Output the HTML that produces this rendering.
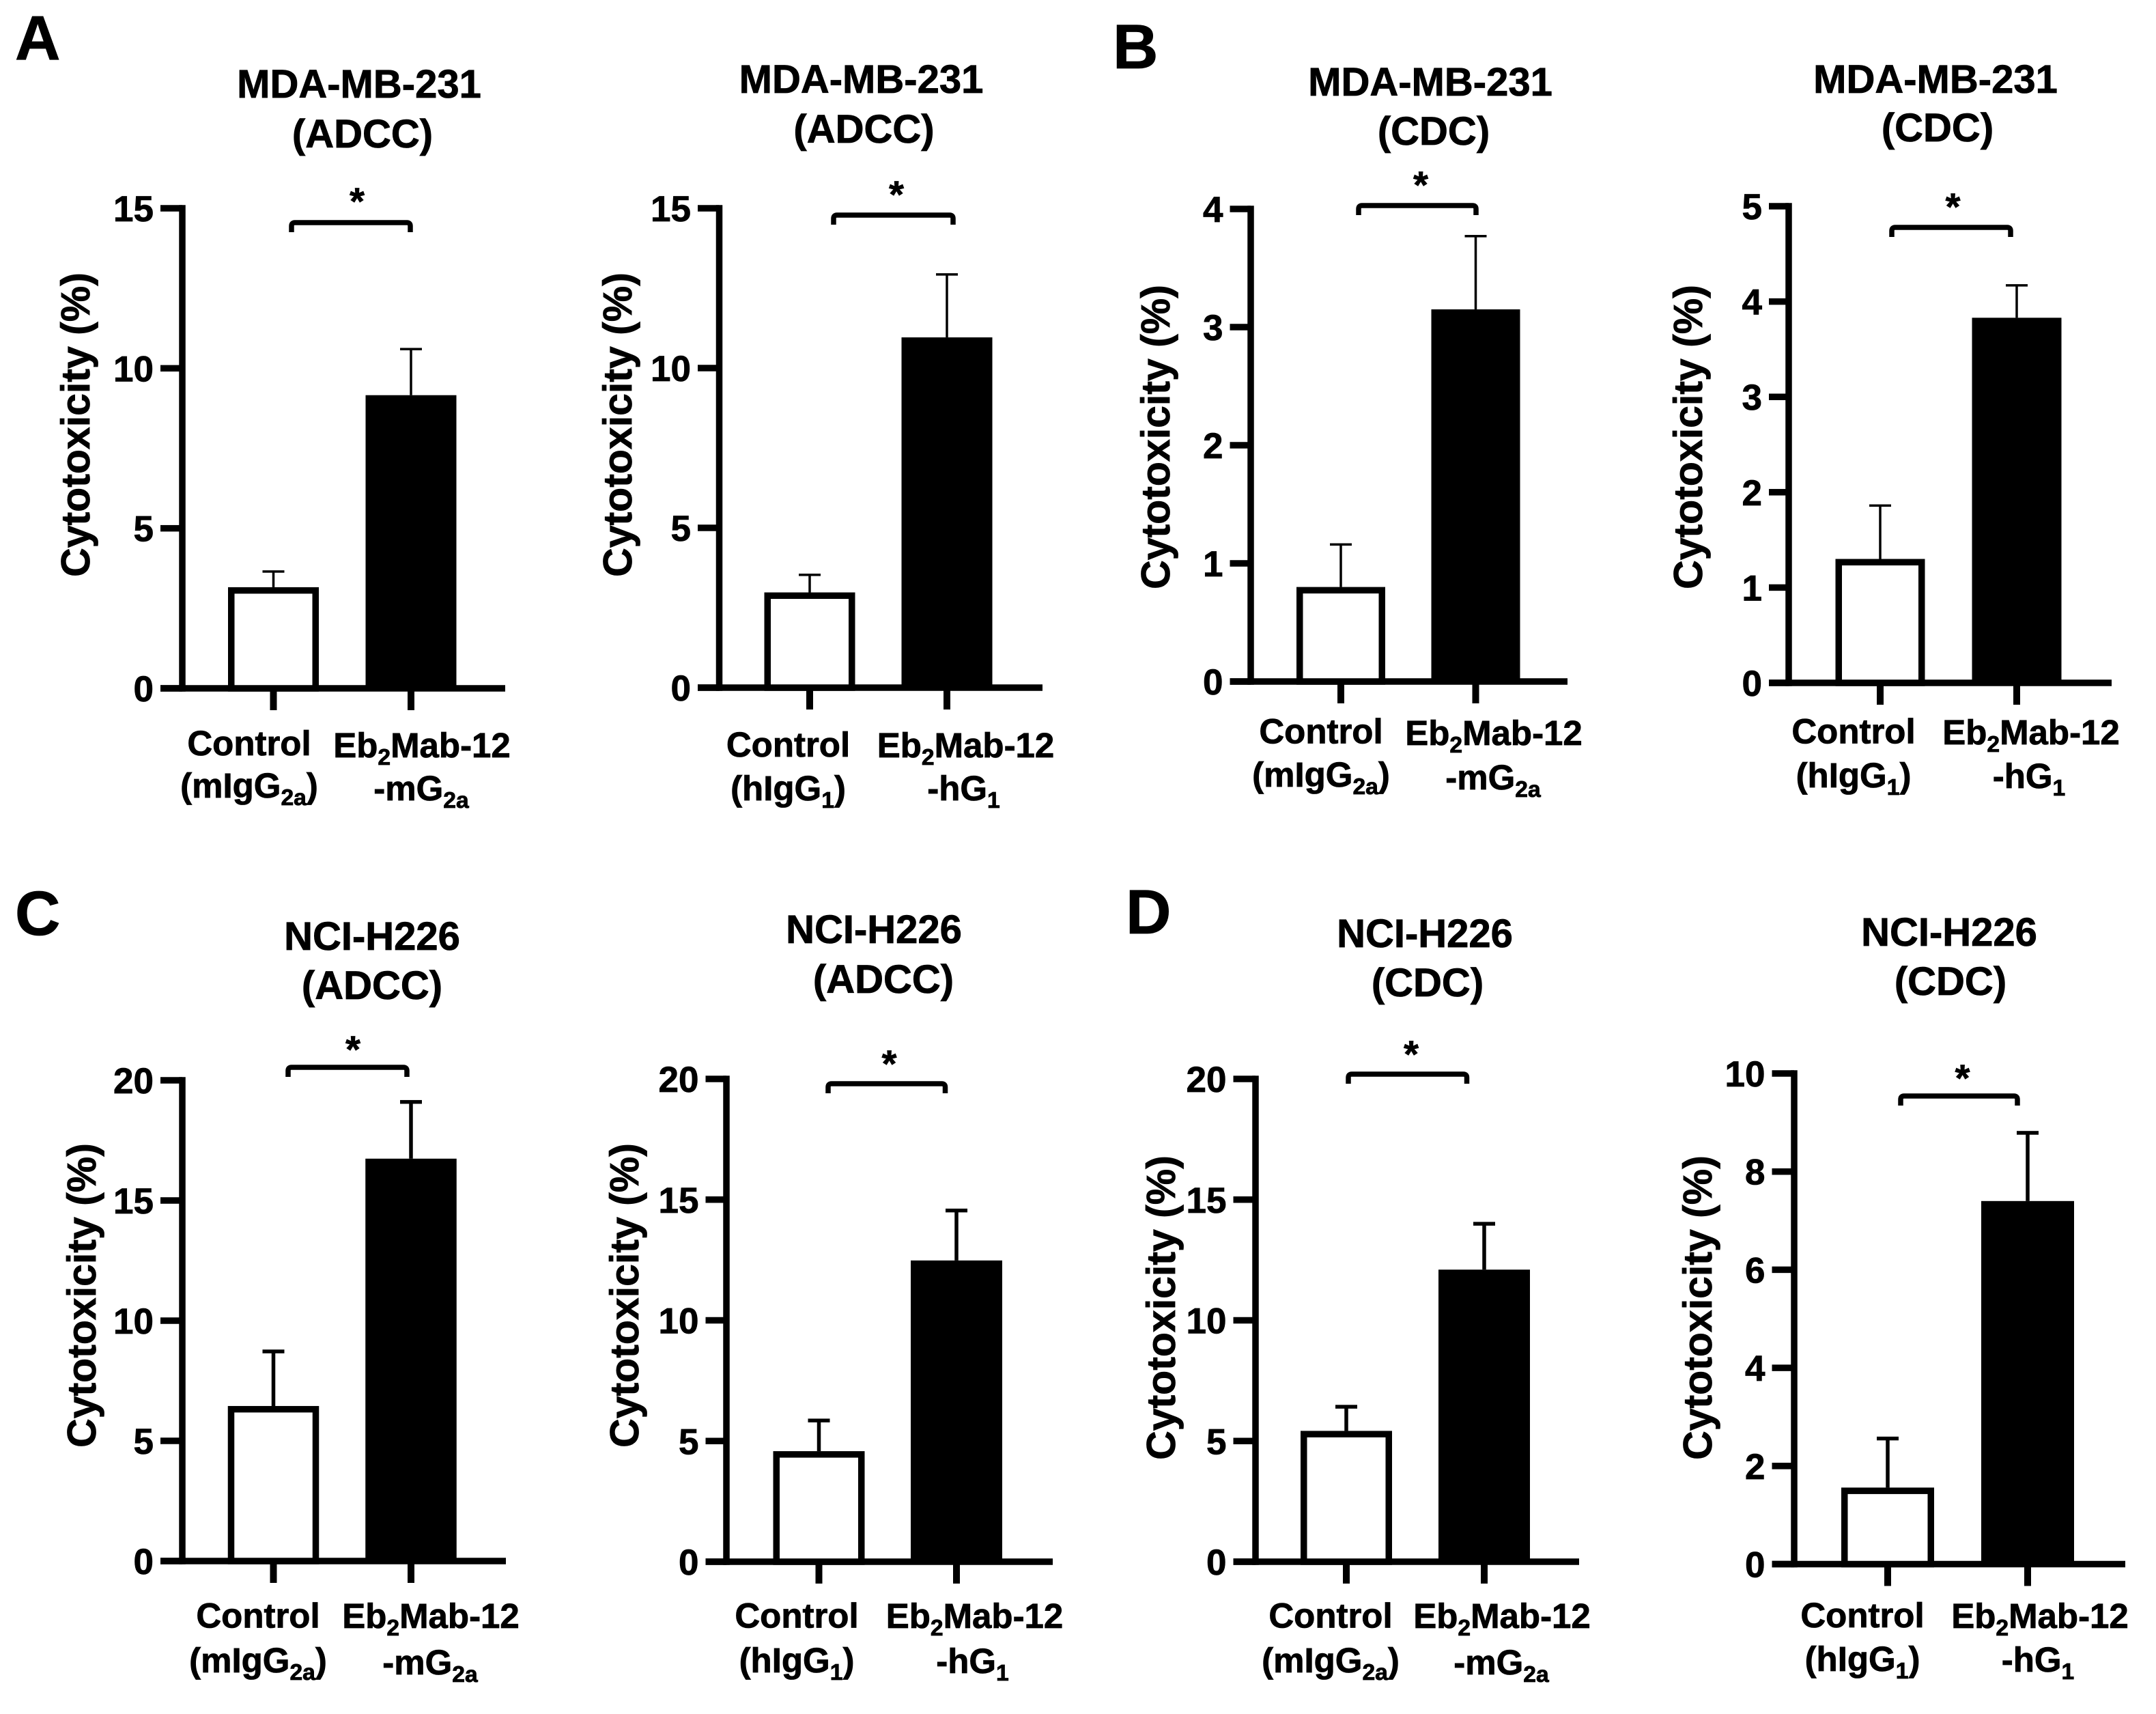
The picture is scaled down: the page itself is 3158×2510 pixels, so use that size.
<!DOCTYPE html>
<html lang="en">
<head>
<meta charset="utf-8">
<title>Cytotoxicity bar charts</title>
<style>
html,body{margin:0;padding:0;background:#fff;width:3158px;height:2510px;overflow:hidden}
svg{display:block}
text{font-family:"Liberation Sans",sans-serif;font-weight:700;fill:#000;stroke:#000;stroke-width:.8px}
</style>
</head>
<body>
<svg id="fig" xmlns="http://www.w3.org/2000/svg" width="3158" height="2510" viewBox="0 0 3158 2510">
  <rect width="3158" height="2510" fill="#fff"/>
  <text x="22" y="87" font-size="92">A</text>
  <text x="1630" y="100" font-size="92">B</text>
  <text x="22" y="1369" font-size="92">C</text>
  <text x="1649" y="1367" font-size="92">D</text>
</svg>
<script>
// ---- chart data ----
const cellLines = ["MDA-MB-231","MDA-MB-231","MDA-MB-231","MDA-MB-231","NCI-H226","NCI-H226","NCI-H226","NCI-H226"];
const assays = ["(ADCC)","(ADCC)","(CDC)","(CDC)","(ADCC)","(ADCC)","(CDC)","(CDC)"];
const controlIsotypes = ["m","h","m","h","m","h","m","h"];
const controlValues = [3.16, 2.98, 0.8, 1.3, 6.45, 4.58, 5.42, 1.56];
const controlErrorTops = [3.65, 3.53, 1.16, 1.86, 8.72, 5.85, 6.42, 2.56];
const treatedValues = [9.16, 10.96, 3.15, 3.83, 16.74, 12.48, 12.1, 7.4];
const treatedErrorTops = [10.6, 12.93, 3.77, 4.17, 19.1, 14.55, 14.0, 8.79];
const yTickLabels = [
  [0,5,10,15],[0,5,10,15],[0,1,2,3,4],[0,1,2,3,4,5],
  [0,5,10,15,20],[0,5,10,15,20],[0,5,10,15,20],[0,2,4,6,8,10]
];

// ---- layout (pixels in the figure) ----
const panelFrames = [
  {axisX:267, left:235, top:305, bottom:1008, right:740,  cx:400.5,tx:602,  bw:133, err:3.5, lc:365,  lt:618,  lcY:1106, lcY2:1168, ltY:1109, ltY2:1172, t1x:526,  t2x:531,  t1y:143, t2y:216, yTitleX:131, yTitleY:622, brL:427, brR:601, brY:326, starX:523, starY:288},
  {axisX:1053.5,left:1022,top:305,bottom:1007,right:1527, cx:1186, tx:1387, bw:133, err:3.5, lc:1154.5,lt:1414.5,lcY:1108, lcY2:1172, ltY:1109, ltY2:1172, t1x:1261.5,t2x:1265.5,t1y:136, t2y:209, yTitleX:925, yTitleY:622, brL:1221,brR:1396,brY:315, starX:1313,starY:278},
  {axisX:1832,left:1801.5,top:306,bottom:998, right:2296, cx:1964, tx:2161.5,bw:130, err:3.5, lc:1935, lt:2188, lcY:1088.5,lcY2:1152, ltY:1091, ltY2:1156, t1x:2095, t2x:2100, t1y:140, t2y:212, yTitleX:1713,yTitleY:640, brL:1990,brR:2162,brY:301, starX:2081,starY:264},
  {axisX:2620,left:2591,top:302, bottom:1000, right:3093, cx:2754, tx:2954, bw:131, err:3.5, lc:2715, lt:2975, lcY:1088.5,lcY2:1153, ltY:1090, ltY2:1154, t1x:2835, t2x:2838, t1y:136, t2y:207, yTitleX:2493,yTitleY:640, brL:2771,brR:2945,brY:333, starX:2860.5,starY:296},
  {axisX:267, left:235, top:1582,bottom:2286, right:741,  cx:400.5,tx:602,  bw:133.5,err:5.5, lc:378,  lt:631,  lcY:2383.5,lcY2:2449, ltY:2384, ltY2:2452, t1x:545,  t2x:545,  t1y:1391,t2y:1463,yTitleX:140, yTitleY:1897,brL:422, brR:596, brY:1563,starX:517, starY:1530},
  {axisX:1064,left:1033.5,top:1580,bottom:2287,right:1542,cx:1199.5,tx:1401,bw:134, err:5.5, lc:1167, lt:1427.5,lcY:2383.5,lcY2:2449, ltY:2384, ltY2:2450, t1x:1280, t2x:1294, t1y:1381,t2y:1454,yTitleX:935, yTitleY:1897,brL:1213,brR:1384.5,brY:1587,starX:1302.5,starY:1551},
  {axisX:1839,left:1806.5,top:1580,bottom:2287,right:2313,cx:1972, tx:2174, bw:134, err:5.5, lc:1949, lt:2200, lcY:2383.5,lcY2:2449, ltY:2384, ltY2:2452, t1x:2087, t2x:2091, t1y:1387,t2y:1459,yTitleX:1721,yTitleY:1915,brL:1975,brR:2148.5,brY:1573,starX:2067,starY:1537},
  {axisX:2628,left:2595.5,top:1572,bottom:2290.5,right:3113,cx:2765,tx:2970,bw:136, err:5.5, lc:2728, lt:2988, lcY:2383, lcY2:2447, ltY:2384, ltY2:2448, t1x:2855, t2x:2857, t1y:1385,t2y:1457,yTitleX:2507,yTitleY:1915,brL:2784,brR:2955,brY:1605,starX:2874.5,starY:1572}
];
const stroke = 9.5;
const NS = "http://www.w3.org/2000/svg";
const fig = document.getElementById("fig");

function yScale(f, ticks, v) {
  const max = ticks[ticks.length - 1];
  return f.bottom - (v / max) * (f.bottom - f.top);
}
function addRect(g, x, y, w, h, fill) {
  const r = document.createElementNS(NS, "rect");
  r.setAttribute("x", x); r.setAttribute("y", y);
  r.setAttribute("width", w); r.setAttribute("height", h);
  r.setAttribute("fill", fill);
  g.appendChild(r);
  return r;
}
function addText(g, x, y, size, anchor) {
  const t = document.createElementNS(NS, "text");
  t.setAttribute("x", x); t.setAttribute("y", y);
  t.setAttribute("font-size", size);
  t.setAttribute("text-anchor", anchor);
  g.appendChild(t);
  return t;
}
function addSpan(t, str, sub, size) {
  const s = document.createElementNS(NS, "tspan");
  s.textContent = str;
  if (sub) { s.setAttribute("font-size", size * 0.66); s.setAttribute("dy", 11); }
  else if (t.dataset.wasSub === "1") { s.setAttribute("dy", -11); }
  t.dataset.wasSub = sub ? "1" : "0";
  t.appendChild(s);
}

panelFrames.forEach(function (f, i) {
  const ticks = yTickLabels[i];
  const g = document.createElementNS(NS, "g");
  
  
  fig.appendChild(g);

  // titles
  const t1 = addText(g, f.t1x, f.t1y, 58, "middle");
  t1.textContent = cellLines[i];
  
  
  const t2 = addText(g, f.t2x, f.t2y, 58, "middle");
  t2.textContent = assays[i];
  
  

  // y title
  const yt = addText(g, 0, 0, 59, "middle");
  yt.textContent = "Cytotoxicity (%)";
  yt.setAttribute("transform", "translate(" + f.yTitleX + "," + f.yTitleY + ") rotate(-90)");
  
  

  // y axis
  const yAxis = addRect(g, f.axisX - stroke / 2, f.top - stroke / 2, stroke, f.bottom - f.top + stroke, "#000");
  
  

  ticks.forEach(function (v) {
    const y = yScale(f, ticks, v);
    const tk = addRect(g, f.left, y - stroke / 2, f.axisX - f.left, stroke, "#000");
    
    
    const lb = addText(g, f.left - 10, y + 19, 53, "end");
    lb.textContent = String(v);
    
    
  });

  // x axis
  const xAxis = addRect(g, f.left, f.bottom - stroke / 2, f.right - f.left, stroke, "#000");
  
  

  [f.cx, f.tx].forEach(function (x) {
    const tk = addRect(g, x - 5, f.bottom, 10, 32, "#000");
    
    
  });

  // error bars
  function errorBar(x, base, topV, name) {
    const yTop = yScale(f, ticks, topV);
    const yBase = yScale(f, ticks, base);
    const stem = addRect(g, x - f.err / 2, yTop, f.err, yBase - yTop, "#000");
    
    
    const cap = addRect(g, x - 16, yTop - f.err / 2, 32, f.err, "#000");
    
    
  }
  errorBar(f.cx, controlValues[i], controlErrorTops[i], "control");
  errorBar(f.tx, treatedValues[i], treatedErrorTops[i], "treated");

  // bars
  const cy = yScale(f, ticks, controlValues[i]);
  const cBar = addRect(g, f.cx - f.bw / 2 + stroke / 2, cy + stroke / 2, f.bw - stroke, f.bottom - cy - stroke / 2, "#fff");
  cBar.setAttribute("stroke", "#000");
  cBar.setAttribute("stroke-width", stroke);
  
  
  const ty = yScale(f, ticks, treatedValues[i]);
  const tBar = addRect(g, f.tx - f.bw / 2, ty, f.bw, f.bottom - ty, "#000");
  
  

  // significance bracket
  const br = document.createElementNS(NS, "path");
  br.setAttribute("d", "M" + f.brL + " " + (f.brY + 14) + "V" + (f.brY + 5) + "Q" + f.brL + " " + f.brY + " " + (f.brL + 5) + " " + f.brY +
    "H" + (f.brR - 5) + "Q" + f.brR + " " + f.brY + " " + f.brR + " " + (f.brY + 5) + "V" + (f.brY + 14));
  br.setAttribute("fill", "none");
  br.setAttribute("stroke", "#000");
  br.setAttribute("stroke-width", 7.5);
  
  
  g.appendChild(br);
  const star = addText(g, f.starX, f.starY + 26, 56, "middle");
  star.textContent = "*";
  
  

  // x category labels
  const iso = controlIsotypes[i];
  const sub = iso === "m" ? "2a" : "1";
  const c1 = addText(g, f.lc, f.lcY, 51, "middle");
  c1.textContent = "Control";
  
  
  const c2 = addText(g, f.lc, f.lcY2, 51, "middle");
  addSpan(c2, "(" + iso + "IgG", false, 51);
  addSpan(c2, sub, true, 51);
  addSpan(c2, ")", false, 51);
  
  
  const e1 = addText(g, f.lt, f.ltY, 51, "middle");
  addSpan(e1, "Eb", false, 51);
  addSpan(e1, "2", true, 51);
  addSpan(e1, "Mab-12", false, 51);
  
  
  const e2 = addText(g, f.lt + (iso === "m" ? -1 : -3), f.ltY2, 51, "middle");
  addSpan(e2, "-" + iso + "G", false, 51);
  addSpan(e2, sub, true, 51);
  
  
});
</script>
</body>
</html>
